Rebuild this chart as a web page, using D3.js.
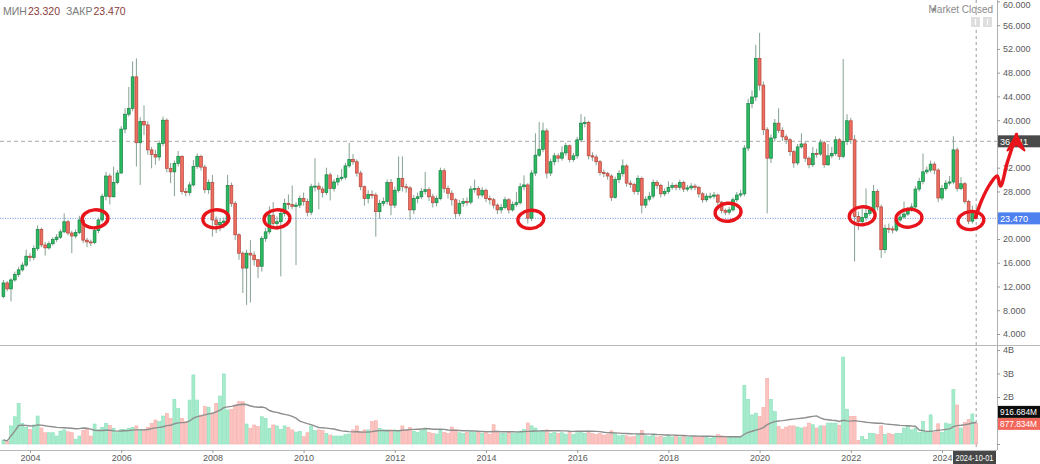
<!DOCTYPE html>
<html>
<head>
<meta charset="utf-8">
<script src="https://cdn.jsdelivr.net/npm/d3@7"></script>
<style>
  body { margin: 0; background: #fff; }
  svg { display: block; font-family: "Liberation Sans", Arial, sans-serif; }
</style>
</head>
<body>
<svg id="chart" width="1040" height="464"></svg>
<script>
// monthly candles, first one is 2003-06, last one 2024-10
const firstMonth = "2003-06";
const firstOpen = 10.3;

const closes = [
  12.6, 11.6, 13.1, 14.0, 14.8, 15.6, 17.1, 16.9, 18.4, 21.6,
  19.0, 18.5, 19.2, 19.9, 20.3, 21.2, 22.9, 21.0, 20.5, 21.1,
  23.2, 19.8, 19.5, 19.4, 21.4, 23.2, 27.2, 30.6, 27.1, 29.5,
  31.1, 38.5, 41.0, 42.0, 47.3, 36.2, 39.8, 39.2, 35.0, 34.2,
  33.8, 36.1, 40.0, 31.9, 31.3, 32.7, 33.9, 28.0, 27.8, 29.1,
  32.2, 33.9, 32.1, 28.3, 29.5, 23.2, 22.4, 22.8, 23.0, 29.0,
  26.0, 20.7, 17.6, 15.1, 17.6, 17.3, 16.5, 15.4, 20.1, 21.2,
  24.0, 22.6, 22.9, 24.3, 26.0, 25.8, 25.5, 25.7, 26.8, 26.3,
  24.5, 28.8, 28.9, 28.4, 27.8, 30.8, 28.5, 29.6, 30.2, 30.4,
  32.3, 33.4, 33.0, 31.1, 28.8, 26.8, 27.5, 27.4, 24.6, 26.0,
  26.3, 29.5, 25.7, 28.2, 30.2, 28.8, 28.6, 24.9, 26.8, 27.1,
  28.0, 28.3, 27.1, 26.1, 26.8, 31.5, 28.5, 27.7, 26.6, 24.3,
  26.0, 26.3, 26.2, 28.4, 28.5, 27.4, 28.2, 26.8, 26.6, 25.7,
  24.9, 25.3, 26.6, 24.9, 25.8, 26.1, 28.8, 29.1, 23.5, 31.1,
  34.1, 35.1, 38.2, 31.1, 33.0, 34.0, 33.6, 34.5, 35.7, 33.4,
  34.0, 36.7, 39.5, 39.6, 34.0, 33.8, 33.0, 31.2, 31.0, 30.6,
  27.0, 30.0, 31.0, 32.3, 29.4, 29.2, 28.0, 30.2, 25.7, 26.7,
  27.2, 29.5, 29.0, 27.6, 28.0, 28.7, 29.0, 28.7, 29.5, 28.4,
  28.6, 28.9, 28.7, 27.6, 26.6, 27.2, 27.2, 27.4, 26.2, 24.8,
  24.5, 24.9, 26.6, 27.4, 27.6, 35.3, 42.8, 43.9, 50.4, 45.9,
  38.4, 33.6, 37.0, 39.5, 38.3, 37.2, 36.7, 34.7, 32.8, 35.5,
  36.0, 33.6, 32.5, 34.4, 34.3, 36.2, 32.5, 34.0, 34.4, 36.7,
  33.9, 36.4, 39.9, 36.7, 23.8, 22.9, 23.6, 24.3, 24.8, 28.0,
  25.4, 18.2, 21.8, 21.7, 21.5, 23.2, 23.7, 24.2, 24.9, 25.4,
  28.4, 29.7, 31.3, 31.6, 32.6, 31.6, 26.9, 28.5, 29.4, 29.6,
  35.0, 28.5, 29.3, 26.3, 23.0, 24.6, 23.47
];

const highs = [
  13.1, 12.9, 13.4, 14.5, 15.3, 16.1, 18.2, 17.6, 18.9, 22.3,
  21.9, 19.5, 19.6, 20.3, 20.8, 21.6, 24.3, 23.2, 21.4, 21.6,
  23.9, 23.6, 20.2, 19.9, 21.8, 23.6, 27.6, 31.3, 31.0, 32.2,
  31.6, 39.0, 42.0, 45.6, 49.9, 50.4, 40.5, 42.5, 39.8, 35.5,
  35.0, 36.6, 40.6, 40.3, 32.8, 33.2, 34.8, 34.1, 28.6, 29.6,
  33.3, 34.4, 34.2, 32.5, 30.0, 30.8, 23.8, 23.5, 23.6, 30.8,
  29.5, 26.4, 21.0, 17.9, 18.2, 19.8, 17.9, 16.6, 20.5, 21.8,
  25.5, 26.2, 23.8, 25.0, 26.8, 27.5, 29.0, 26.2, 27.3, 27.8,
  26.8, 29.3, 33.6, 29.5, 28.8, 32.0, 31.2, 30.1, 30.8, 31.8,
  32.8, 36.2, 34.3, 33.4, 31.5, 29.0, 28.2, 28.2, 27.8, 26.6,
  27.0, 30.0, 30.1, 28.8, 33.9, 33.9, 29.3, 28.9, 27.4, 27.8,
  28.6, 31.3, 28.7, 27.6, 27.3, 32.0, 31.9, 29.0, 28.2, 26.9,
  26.6, 26.9, 27.0, 28.9, 30.0, 28.9, 28.7, 28.5, 27.3, 26.9,
  26.0, 25.9, 27.1, 26.9, 26.3, 27.9, 29.4, 30.7, 29.4, 31.6,
  37.8, 39.7, 39.6, 38.6, 33.5, 34.5, 34.4, 35.6, 36.2, 35.9,
  34.5, 37.2, 41.0, 40.6, 39.9, 34.6, 34.2, 33.3, 31.7, 31.3,
  30.9, 30.5, 31.6, 33.4, 32.6, 29.9, 29.5, 30.7, 30.5, 27.2,
  27.9, 30.0, 29.9, 29.3, 28.5, 29.7, 29.5, 29.3, 30.0, 29.8,
  29.1, 29.4, 29.3, 28.9, 27.9, 27.7, 27.8, 27.9, 27.6, 26.4,
  25.1, 25.4, 27.0, 27.9, 28.3, 35.8, 43.6, 45.0, 52.7, 54.7,
  46.5, 38.8, 37.6, 40.2, 42.0, 38.8, 37.6, 37.0, 35.0, 36.0,
  37.8, 36.4, 33.9, 35.5, 35.2, 36.8, 36.5, 36.0, 35.5, 37.3,
  37.0, 50.3, 41.0, 40.4, 37.5, 24.6, 25.3, 28.5, 25.4, 29.1,
  28.4, 25.8, 22.4, 22.6, 22.2, 23.7, 24.2, 26.3, 25.4, 26.0,
  28.9, 30.3, 34.4, 32.2, 33.2, 33.0, 31.9, 29.1, 29.9, 30.6,
  37.3, 35.4, 30.4, 29.6, 26.6, 25.6, 25.4
];

const lows = [
  10.0, 11.2, 9.5, 12.8, 13.6, 14.5, 15.3, 16.2, 16.4, 18.0,
  18.6, 17.2, 18.2, 18.9, 19.5, 20.0, 21.0, 20.6, 17.6, 20.1,
  20.8, 19.3, 18.6, 18.8, 19.1, 21.0, 22.8, 26.5, 25.8, 27.0,
  29.2, 31.0, 37.8, 40.6, 41.5, 32.2, 29.1, 37.5, 34.2, 31.9,
  32.5, 33.2, 35.6, 31.2, 29.4, 27.2, 32.2, 27.5, 27.2, 27.3,
  28.8, 31.8, 31.5, 27.7, 27.6, 20.4, 21.0, 21.3, 21.8, 22.6,
  25.4, 19.8, 16.5, 10.9, 8.9, 9.3, 15.5, 13.4, 14.5, 19.5,
  20.8, 22.0, 21.5, 13.7, 23.8, 25.0, 25.0, 15.6, 25.2, 25.6,
  23.8, 24.0, 28.0, 25.0, 27.0, 27.4, 26.5, 28.0, 29.0, 29.8,
  30.0, 32.0, 32.5, 30.5, 28.2, 25.6, 26.0, 26.8, 20.4, 23.4,
  25.5, 25.8, 24.0, 25.2, 27.8, 28.0, 27.8, 23.2, 24.2, 26.0,
  26.7, 27.5, 26.4, 25.3, 25.5, 26.5, 27.8, 26.8, 25.6, 23.4,
  23.8, 25.4, 25.6, 25.8, 27.8, 26.8, 27.0, 26.2, 25.8, 25.1,
  24.2, 24.3, 25.0, 24.3, 24.6, 25.4, 25.8, 28.2, 22.6, 23.0,
  30.6, 33.8, 34.6, 30.2, 30.6, 32.4, 32.9, 33.2, 34.0, 32.9,
  33.0, 33.5, 36.3, 38.8, 33.4, 33.1, 32.4, 30.7, 30.4, 30.0,
  26.4, 26.8, 29.4, 30.5, 28.8, 28.6, 27.5, 27.4, 24.3, 25.2,
  26.3, 26.8, 28.4, 27.0, 27.2, 27.6, 28.3, 28.2, 28.2, 27.9,
  28.0, 28.2, 28.2, 27.0, 26.1, 26.2, 26.7, 26.8, 25.6, 24.3,
  24.0, 24.1, 24.6, 26.2, 27.0, 27.2, 34.8, 42.0, 43.2, 45.0,
  37.5, 24.3, 32.8, 36.4, 37.8, 36.5, 36.0, 34.0, 32.0, 32.4,
  35.2, 33.0, 31.9, 32.1, 33.7, 34.0, 32.0, 32.3, 33.6, 34.0,
  33.3, 33.6, 35.8, 36.0, 16.2, 21.5, 22.4, 23.1, 23.9, 24.3,
  24.8, 16.8, 17.6, 21.0, 20.9, 21.2, 22.9, 23.4, 23.9, 24.6,
  25.1, 28.0, 29.2, 30.9, 31.2, 30.9, 26.2, 26.5, 28.1, 29.0,
  29.2, 28.0, 28.2, 25.9, 22.5, 22.6, 23.32
];

// volume in billions
const volumes = [
  0.17, 0.10, 0.77, 1.16, 1.73, 0.88, 0.71, 0.62, 0.81, 1.19,
  0.68, 0.48, 0.48, 0.48, 0.34, 0.55, 0.60, 0.52, 0.48, 0.20,
  0.34, 0.57, 0.62, 0.34, 0.85, 0.60, 0.71, 0.88, 0.79, 0.67,
  0.48, 0.62, 0.62, 0.67, 0.71, 0.77, 0.62, 0.62, 0.71, 0.88,
  1.02, 0.95, 1.19, 1.30, 1.09, 1.90, 1.52, 1.09, 0.95, 1.87,
  2.94, 1.87, 1.23, 1.59, 1.56, 1.30, 1.73, 2.04, 2.98, 1.45,
  1.48, 1.66, 1.80, 1.80, 0.85, 0.67, 0.81, 0.74, 1.16, 1.09,
  0.67, 0.81, 0.77, 0.62, 0.77, 0.71, 0.60, 0.51, 0.54, 0.31,
  0.48, 0.77, 0.57, 0.60, 0.57, 0.45, 0.38, 0.34, 0.34, 0.34,
  0.40, 0.43, 0.60, 0.77, 0.52, 0.60, 0.60, 0.95, 0.99, 0.67,
  0.60, 0.60, 0.60, 0.60, 0.55, 0.77, 0.60, 0.70, 0.55, 0.50,
  0.58, 0.68, 0.50, 0.45, 0.42, 0.60, 0.50, 0.45, 0.72, 0.62,
  0.48, 0.45, 0.50, 0.55, 0.48, 0.52, 0.45, 0.50, 0.42, 0.82,
  0.55, 0.45, 0.45, 0.50, 0.45, 0.48, 0.55, 0.62, 0.89, 0.77,
  0.68, 0.55, 0.55, 0.60, 0.45, 0.50, 0.45, 0.48, 0.42, 0.52,
  0.40, 0.48, 0.52, 0.45, 0.55, 0.45, 0.40, 0.45, 0.38, 0.42,
  0.56, 0.45, 0.35, 0.38, 0.35, 0.30, 0.32, 0.38, 0.58, 0.35,
  0.32, 0.38, 0.30, 0.32, 0.28, 0.35, 0.30, 0.32, 0.30, 0.35,
  0.28, 0.30, 0.30, 0.32, 0.30, 0.28, 0.25, 0.30, 0.40, 0.35,
  0.30, 0.28, 0.30, 0.28, 0.30, 2.50, 1.90, 1.24, 1.31, 1.17,
  1.56, 2.79, 1.90, 1.38, 0.75, 0.63, 0.72, 0.77, 0.77, 0.72,
  0.68, 0.72, 0.89, 0.82, 0.68, 0.77, 0.77, 0.89, 0.89, 0.89,
  0.80, 3.70, 1.48, 1.17, 1.17, 0.15, 0.32, 0.20, 0.46, 0.44,
  0.40, 0.77, 0.40, 0.45, 0.40, 0.45, 0.45, 0.68, 0.77, 0.60,
  0.68, 0.50, 0.96, 0.50, 1.24, 0.49, 0.86, 0.50, 0.89, 0.85,
  2.32, 1.66, 0.68, 0.92, 1.05, 1.28, 0.878
];

const priceTicks = d3.range(4, 61, 4);
const volumeTicks = [0, 1, 2, 3, 4];
const yearTicks = d3.range(2004, 2025, 2);
const maPeriod = 20;
const markedLevel = 36.441;
const maLabel = "916.684M";
const volLabel = "877.834M";
const dateLabel = "2024-10-01";

// red hand drawn marks: [candle index, price]
const circleMarks = [[24.1, 23.4], [55.9, 23.4], [72, 23.4], [138.8, 23.3],
                     [190.7, 24.5], [226, 23.9], [238.3, 23.5], [254.6, 23.1]];
const arrowPath = [[255.8, 23.6], [257.5, 26.6], [259.6, 29.2], [261.5, 30.6],
                   [262.4, 28.9], [264.2, 32.9], [266.6, 37.6]];

if ([highs, lows, volumes].some(a => a.length !== closes.length)) {
  throw new Error("length mismatch " + [closes, highs, lows, volumes].map(a => a.length));
}

const parseMonth = d3.utcParse("%Y-%m");
const months = d3.utcMonth.range(parseMonth(firstMonth), d3.utcMonth.offset(parseMonth(firstMonth), closes.length));
const candles = closes.map((c, i) => ({
  i, date: months[i],
  o: i ? closes[i - 1] : firstOpen,
  h: highs[i], l: lows[i], c, v: volumes[i]
}));
candles.forEach((d, i) => {
  const win = candles.slice(Math.max(0, i - maPeriod + 1), i + 1);
  d.ma = d3.mean(win, e => e.v);
});
const last = candles[candles.length - 1];

const W = 1040, H = 464, axisX = 997;
const svg = d3.select("#chart");
svg.append("rect").attr("width", W).attr("height", H).attr("fill", "#fff");

const x = d3.scaleLinear().domain([0, closes.length - 1]).range([3.4, 976.2]);
const y = d3.scaleLinear().domain([4, 60]).range([334, 1.4]);
const vy = d3.scaleLinear().domain([0, 4]).range([444, 350]);

const defs = svg.append("defs");
defs.append("clipPath").attr("id", "mainclip").append("rect")
  .attr("x", 0).attr("y", 0).attr("width", axisX).attr("height", 345);
defs.append("clipPath").attr("id", "volclip").append("rect")
  .attr("x", 0).attr("y", 346).attr("width", axisX).attr("height", 104);

// pane borders
svg.append("line").attr("x1", 0).attr("x2", W).attr("y1", 345.5).attr("y2", 345.5)
  .attr("stroke", "#b8b8b8");
svg.append("line").attr("x1", 0).attr("x2", axisX).attr("y1", 450.5).attr("y2", 450.5)
  .attr("stroke", "#b8b8b8");

// level lines
svg.append("line").attr("x1", 0).attr("x2", axisX)
  .attr("y1", y(markedLevel)).attr("y2", y(markedLevel))
  .attr("stroke", "#a9a9a9").attr("stroke-dasharray", "4,3");
svg.append("line").attr("x1", 0).attr("x2", axisX)
  .attr("y1", y(last.c)).attr("y2", y(last.c))
  .attr("stroke", "#6f93f2").attr("stroke-dasharray", "1,1.5");

// current date crosshair
svg.append("line").attr("x1", x(last.i)).attr("x2", x(last.i)).attr("y1", 0).attr("y2", 450)
  .attr("stroke", "#9c9c9c").attr("stroke-dasharray", "3,3");

// candles
const up = d => d.c >= d.o;
const main = svg.append("g").attr("clip-path", "url(#mainclip)");
main.selectAll("line.wick").data(candles).join("line")
  .attr("class", "wick")
  .attr("x1", d => x(d.i)).attr("x2", d => x(d.i))
  .attr("y1", d => y(d.h)).attr("y2", d => y(d.l))
  .attr("stroke", "#86a292").attr("stroke-width", 1);
main.selectAll("rect.body").data(candles).join("rect")
  .attr("class", "body")
  .attr("x", d => x(d.i) - 1.4).attr("width", 2.8)
  .attr("y", d => y(Math.max(d.o, d.c)))
  .attr("height", d => Math.max(1, Math.abs(y(d.o) - y(d.c))))
  .attr("fill", d => up(d) ? "#2dbb62" : "#ef6e60")
  .attr("stroke", d => up(d) ? "#168245" : "#b3443a")
  .attr("stroke-width", 0.7);

// volume
const vol = svg.append("g").attr("clip-path", "url(#volclip)");
vol.selectAll("rect").data(candles).join("rect")
  .attr("x", d => x(d.i) - 1.5).attr("width", 3)
  .attr("y", d => vy(d.v)).attr("height", d => vy(0) - vy(d.v))
  .attr("fill", d => up(d) ? "#a6ebcc" : "#fcc4c0")
  .attr("stroke", d => up(d) ? "#88dfba" : "#f6aca7")
  .attr("stroke-width", 0.6);
vol.append("path").datum(candles)
  .attr("d", d3.line().x(d => x(d.i)).y(d => vy(d.ma)))
  .attr("fill", "none").attr("stroke", "#8e8e8e").attr("stroke-width", 1.4);

// value tags sit on top of the scale, so tick labels under them are dropped
const tagPrices = [markedLevel, last.c];
const tagVolumes = [last.v, last.v - 0.5];

function styleAxis(g) {
  g.select(".domain").attr("stroke", "#b0b0b0");
  g.selectAll(".tick line").attr("stroke", "#9a9a9a");
  g.selectAll(".tick text").attr("fill", "#5a5a5a").style("font-size", "9px")
    .style("font-family", "'Liberation Sans', Arial, sans-serif");
}
svg.append("line").attr("x1", axisX + 0.5).attr("x2", axisX + 0.5).attr("y1", 0).attr("y2", 450)
  .attr("stroke", "#b0b0b0");
svg.append("g").attr("transform", `translate(${axisX},0)`)
  .call(d3.axisRight(y).tickValues(priceTicks).tickFormat(d3.format(".3f")).tickSize(3).tickPadding(3))
  .call(styleAxis).call(g => g.select(".domain").remove())
  .call(g => g.selectAll(".tick text")
    .filter(t => tagPrices.some(p => Math.abs(y(p) - y(t)) < 10)).remove())
  // keep the top label inside the window
  .call(g => g.selectAll(".tick text").filter(t => y(t) < 5).attr("y", t => 5 - y(t)));
svg.append("g").attr("transform", `translate(${axisX},0)`)
  .call(d3.axisRight(vy).tickValues(volumeTicks).tickFormat(v => v ? v + "B" : "0").tickSize(3).tickPadding(3))
  .call(styleAxis).call(g => g.select(".domain").remove())
  .call(g => g.selectAll(".tick text")
    .filter(t => tagVolumes.some(p => Math.abs(vy(p) - vy(t)) < 10)).remove());

const yearIndex = yr => candles.findIndex(d => d.date.getUTCFullYear() === yr && d.date.getUTCMonth() === 0);
svg.append("g").attr("transform", "translate(0,450)")
  .call(d3.axisBottom(x).tickValues(yearTicks.map(yearIndex))
    .tickFormat(i => candles[i].date.getUTCFullYear()).tickSize(3).tickPadding(2))
  .call(styleAxis).call(g => g.select(".domain").remove());

// value labels on the right scale
function tag(yc, text, bg, len) {
  const g = svg.append("g");
  g.append("rect").attr("x", axisX + 1).attr("y", yc - 6).attr("width", W - axisX - 1).attr("height", 12)
    .attr("fill", bg);
  g.append("text").attr("x", axisX + 3).attr("y", yc + 3.2).text(text)
    .attr("fill", "#fff").style("font-size", "9px")
    .attr("textLength", len).attr("lengthAdjust", "spacingAndGlyphs");
}
const fmt3 = d3.format(".3f");
tag(y(markedLevel), fmt3(markedLevel), "#4a4a4a", 28);
tag(y(last.c), fmt3(last.c), "#4f80ef", 28);
tag(vy(last.v) + 0.5, volLabel, "#f2675b", 37);
tag(vy(last.v) - 11.5, maLabel, "#0c0c0c", 37);

// date label on time scale
const dg = svg.append("g");
dg.append("rect").attr("x", axisX - 44).attr("y", 451).attr("width", 43).attr("height", 13).attr("fill", "#474747");
dg.append("text").attr("x", axisX - 41.5).attr("y", 461)
  .text(dateLabel).attr("fill", "#fff").style("font-size", "9px")
  .attr("textLength", 38).attr("lengthAdjust", "spacingAndGlyphs");

// header
const head = svg.append("text").attr("x", 3).attr("y", 15).style("font-size", "10.5px");
head.append("tspan").text("МИН").attr("fill", "#7a7a7a");
head.append("tspan").text(fmt3(last.l)).attr("fill", "#8a3b3b").attr("dx", 1);
head.append("tspan").text("ЗАКР").attr("fill", "#7a7a7a").attr("dx", 6);
head.append("tspan").text(fmt3(last.c)).attr("fill", "#8a3b3b").attr("dx", 1);

svg.append("circle").attr("cx", 934).attr("cy", 9.5).attr("r", 1.8).attr("fill", "#8a8a8a");
svg.append("text").attr("x", 993).attr("y", 13).attr("text-anchor", "end")
  .text("Market Closed").attr("fill", "#8a8a8a").style("font-size", "10px");
[971, 983].forEach(bx => {
  svg.append("rect").attr("x", bx).attr("y", 17).attr("width", 9).attr("height", 10).attr("fill", "#dedede");
  svg.append("line").attr("x1", bx + 4.5).attr("x2", bx + 4.5).attr("y1", 19).attr("y2", 25)
    .attr("stroke", "#fff").attr("stroke-width", 1.2);
});

// red hand drawn marks
const ink = svg.append("g").attr("fill", "none").attr("stroke", "#e8141b")
  .attr("stroke-width", 3.4).attr("stroke-linecap", "round").attr("stroke-linejoin", "round");
circleMarks.forEach(([ci, p]) => {
  const cx = x(ci), cy = y(p);
  ink.append("ellipse").attr("cx", cx).attr("cy", cy).attr("rx", 13).attr("ry", 9)
    .attr("transform", `rotate(-6,${cx},${cy})`);
});
ink.append("path").datum(arrowPath)
  .attr("d", d3.line().x(d => x(d[0])).y(d => y(d[1])).curve(d3.curveCatmullRom));
const tip = arrowPath[arrowPath.length - 1];
const tx = x(tip[0]), ty = y(tip[1]);
svg.append("path")
  .attr("d", `M${tx},${ty} L${tx - 9},${ty + 16} L${tx},${ty + 10} L${tx + 8},${ty + 16} Z`)
  .attr("fill", "#e8141b").attr("stroke", "#e8141b").attr("stroke-width", 2).attr("stroke-linejoin", "round");
</script>
</body>
</html>
